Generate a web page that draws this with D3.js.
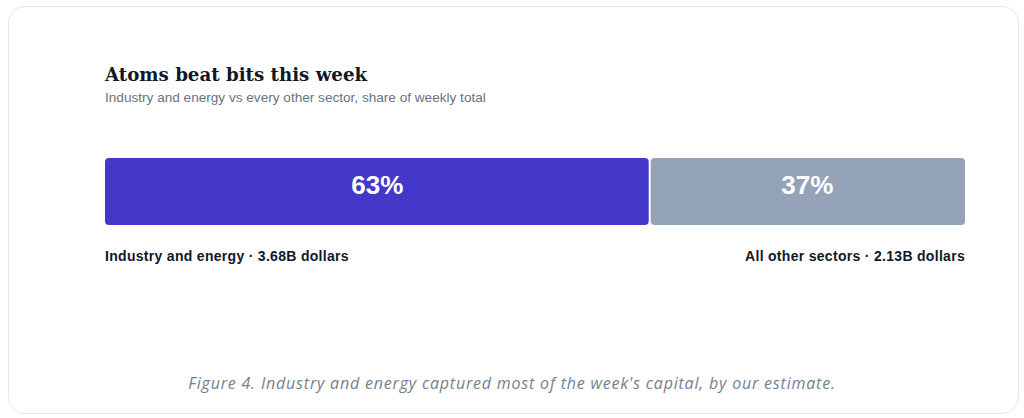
<!DOCTYPE html>
<html>
<head>
<meta charset="utf-8">
<script src="https://cdn.jsdelivr.net/npm/d3@7"></script>
<style>
    html, body { margin: 0; padding: 0; background: #ffffff; }
    #chart { width: 1024px; height: 418px; }
</style>
</head>
<body>
<div id="chart"></div>
<script>
var categories = ["Industry and energy", "All other sectors"];
var values = [3.68, 2.13];
var unitLabel = "B dollars";
var colors = ["#4338ca", "#94a3b8"];

var title = "Atoms beat bits this week";
var subtitle = "Industry and energy vs every other sector, share of weekly total";
var caption = "Figure 4. Industry and energy captured most of the week's capital, by our estimate.";

var width = 1024, height = 418;
var margin = {left: 105, right: 59},
    barTop = 158,
    barHeight = 67,
    gap = 2;

var svg = d3.select("#chart").append("svg")
    .attr("width", width)
    .attr("height", height);

// card
svg.append("rect")
    .attr("x", 8.5).attr("y", 6.5)
    .attr("width", 1010).attr("height", 407)
    .attr("rx", 16)
    .attr("fill", "#ffffff")
    .attr("stroke", "#e5e7eb");

svg.append("text")
    .attr("x", margin.left).attr("y", 81)
    .attr("font-family", "'DejaVu Serif', Georgia, serif")
    .attr("font-weight", "bold")
    .attr("font-size", 18.2)
    .attr("fill", "#111827")
    .text(title);

svg.append("text")
    .attr("x", margin.left).attr("y", 102)
    .attr("font-family", "'Liberation Sans', Arial, sans-serif")
    .attr("font-size", 13.6)
    .attr("fill", "#6b7280")
    .text(subtitle);

var total = d3.sum(values);
var stacked = [], acc = 0;
values.forEach(function (v, i) {
    stacked.push({name: categories[i], value: v, x0: acc, x1: acc + v, color: colors[i]});
    acc += v;
});

var x = d3.scaleLinear()
    .domain([0, total])
    .range([margin.left, width - margin.right]);

var pct = d3.format(".0%");

var seg = svg.append("g").selectAll("g")
    .data(stacked)
    .enter().append("g");

seg.append("rect")
    .attr("x", function (d, i) { return x(d.x0) + (i > 0 ? gap / 2 : 0); })
    .attr("y", barTop)
    .attr("width", function (d, i) { return x(d.x1) - x(d.x0) - gap / 2; })
    .attr("height", barHeight)
    .attr("rx", 4)
    .attr("fill", function (d) { return d.color; });

seg.append("text")
    .attr("x", function (d) { return (x(d.x0) + x(d.x1)) / 2; })
    .attr("y", barTop + 36)
    .attr("text-anchor", "middle")
    .attr("font-family", "'Liberation Sans', Arial, sans-serif")
    .attr("font-weight", "bold")
    .attr("font-size", 26)
    .attr("fill", "#ffffff")
    .text(function (d) { return pct(d.value / total); });

seg.append("text")
    .attr("x", function (d, i) { return i === 0 ? x(d.x0) : x(d.x1); })
    .attr("y", 261)
    .attr("text-anchor", function (d, i) { return i === 0 ? "start" : "end"; })
    .attr("font-family", "'Liberation Sans', Arial, sans-serif")
    .attr("font-weight", "bold")
    .attr("font-size", 14)
    .attr("letter-spacing", 0.3)
    .attr("fill", "#111827")
    .text(function (d) { return d.name + " \u00b7 " + d.value.toFixed(2) + unitLabel; });

svg.append("text")
    .attr("x", width / 2).attr("y", 389)
    .attr("text-anchor", "middle")
    .attr("font-family", "'Open Sans', sans-serif")
    .attr("font-style", "italic")
    .attr("font-size", 16)
    .attr("letter-spacing", 0.8)
    .attr("fill", "#74818f")
    .text(caption);
</script>
</body>
</html>
